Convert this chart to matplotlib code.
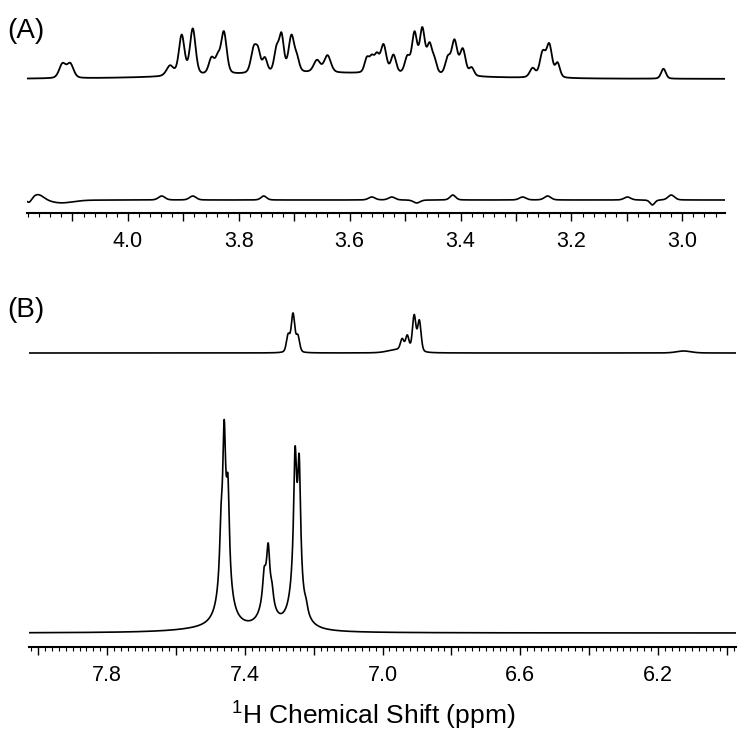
import numpy as np
import matplotlib
matplotlib.use("Agg")
import matplotlib.pyplot as plt
from matplotlib.ticker import MultipleLocator, FuncFormatter

plt.rcParams['font.family'] = ['Liberation Sans', 'DejaVu Sans']
plt.rcParams['mathtext.fontset'] = 'custom'
plt.rcParams['mathtext.rm'] = 'Liberation Sans'

# ---------------- data (ppm, intensity a.u., linewidth ppm) ----------------
# Panel A, upper trace
a_top_ppm = [4.118, 4.104, 3.924, 3.903, 3.883, 3.849, 3.838, 3.827, 3.773, 3.765,
             3.753, 3.732, 3.723, 3.705, 3.695, 3.659, 3.640, 3.569, 3.560, 3.551,
             3.539, 3.521, 3.496, 3.483, 3.469, 3.456, 3.447, 3.423, 3.411, 3.396,
             3.380, 3.270, 3.252, 3.240, 3.225, 3.034, 3.66]
a_top_int = [14, 14, 10, 40, 46, 16, 14, 42, 24, 18,
             14, 22, 36, 36, 12, 12, 17, 14, 14, 16,
             28, 18, 16, 40, 44, 28, 12, 16, 34, 26,
             8, 9, 24, 32, 14, 10, 6]
a_top_wid = [0.014, 0.014, 0.015, 0.012, 0.012, 0.012, 0.010, 0.012, 0.012, 0.010,
             0.010, 0.010, 0.010, 0.012, 0.010, 0.014, 0.014, 0.010, 0.010, 0.010,
             0.012, 0.011, 0.011, 0.011, 0.011, 0.011, 0.010, 0.011, 0.012, 0.012,
             0.010, 0.012, 0.012, 0.012, 0.010, 0.010, 0.45]

# Panel A, lower trace (baseline features)
a_bot_ppm = [4.178, 4.162, 4.120, 3.939, 3.883, 3.755, 3.560, 3.524, 3.479, 3.414,
             3.288, 3.243, 3.099, 3.054, 3.020]
a_bot_int = [-4, 6, -3, 4, 4, 4, 3, 3, -3, 5, 3, 4, 3, -5, 5]
a_bot_wid = [0.010, 0.025, 0.05, 0.014, 0.014, 0.012, 0.014, 0.014, 0.014, 0.012,
             0.014, 0.014, 0.014, 0.010, 0.014]

# Panel B, upper trace
b_top_ppm = [7.274, 7.260, 7.246, 6.960, 6.943, 6.928, 6.908, 6.893, 6.125]
b_top_int = [17, 38, 16, 3, 11, 15, 36, 31, 2]
b_top_wid = [0.012, 0.012, 0.012, 0.06, 0.012, 0.012, 0.012, 0.012, 0.05]

# Panel B, lower trace
b_bot_ppm = [7.500, 7.458, 7.335, 7.250, 7.469, 7.460, 7.449, 7.344, 7.332, 7.321,
             7.254, 7.242, 7.222]
b_bot_int = [3, 60, 40, 55, 47, 125, 82, 22, 40, 12, 114, 113, 8]
b_bot_wid = [0.25, 0.035, 0.035, 0.035, 0.010, 0.010, 0.010, 0.010, 0.010, 0.010,
             0.010, 0.010, 0.012]

a_ticks_labeled = [4.0, 3.8, 3.6, 3.4, 3.2, 3.0]
b_ticks_labeled = [7.8, 7.4, 7.0, 6.6, 6.2]
x_label = r'$\mathregular{^1}$H Chemical Shift (ppm)'


def spectrum(x, centers, heights, widths, eta):
    y = np.zeros_like(x)
    for c, h, w in zip(centers, heights, widths):
        hw = w / 2.0
        lor = 1.0 / (1.0 + ((x - c) / hw) ** 2)
        gau = np.exp(-np.log(2) * ((x - c) / hw) ** 2)
        y += h * (eta * lor + (1 - eta) * gau)
    return y


W, H = 750, 745
fig = plt.figure(figsize=(W / 100, H / 100), dpi=100)


def px_axes(x0, x1, ytop, ybot):
    return fig.add_axes([x0 / W, 1 - ybot / H, (x1 - x0) / W, (ybot - ytop) / H])


def style(ax, major, minor, labeled):
    for s in ['top', 'left', 'right']:
        ax.spines[s].set_visible(False)
    ax.spines['bottom'].set_linewidth(1.5)
    ax.set_yticks([])
    ax.xaxis.set_major_locator(MultipleLocator(major))
    ax.xaxis.set_minor_locator(MultipleLocator(minor))
    ax.xaxis.set_major_formatter(FuncFormatter(
        lambda v, p: f'{v:.1f}' if any(abs(v - t) < 1e-6 for t in labeled) else ''))
    ax.tick_params(axis='x', which='major', length=6, width=1.0, direction='out',
                   labelsize=15.5, pad=7)
    ax.tick_params(axis='x', which='minor', length=3, width=0.8, direction='out')


# Panel A
axA = px_axes(27, 725, 15, 213)
xa = np.linspace(4.182, 2.923, 3000)
axA.plot(xa, 134 + spectrum(xa, a_top_ppm, a_top_int, a_top_wid, 0.3), color='black', lw=1.3)
axA.plot(xa, 13 + spectrum(xa, a_bot_ppm, a_bot_int, a_bot_wid, 0.3), color='black', lw=1.2)
axA.set_xlim(4.182, 2.923)
axA.set_ylim(0, 198)
style(axA, 0.1, 0.02, a_ticks_labeled)

# Panel B
axB = px_axes(29, 736, 290, 647)
xb = np.linspace(8.027, 5.973, 5000)
axB.plot(xb, 294 + spectrum(xb, b_top_ppm, b_top_int, b_top_wid, 0.3), color='black', lw=1.2)
axB.plot(xb, 14 + spectrum(xb, b_bot_ppm, b_bot_int, b_bot_wid, 1.0), color='black', lw=1.2)
axB.set_xlim(8.027, 5.973)
axB.set_ylim(0, 357)
style(axB, 0.2, 0.02, b_ticks_labeled)

fig.text(7 / W, 1 - 18 / H, '(A)', fontsize=20, ha='left', va='top')
fig.text(7 / W, 1 - 297 / H, '(B)', fontsize=20, ha='left', va='top')
fig.text(373 / W, 1 - 725 / H, x_label, fontsize=19, ha='center', va='baseline')

fig.savefig('out.png', dpi=100)
